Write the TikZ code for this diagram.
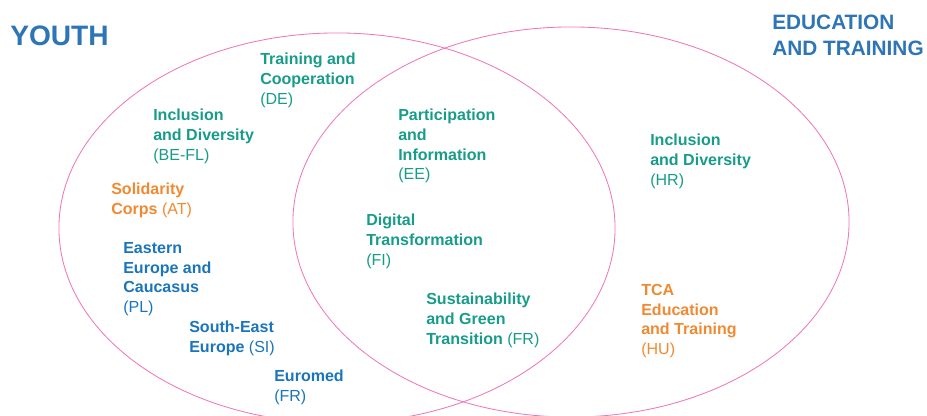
\documentclass[tikz,border=0pt]{standalone}
\usepackage{fontspec}
\setmainfont{Liberation Sans}
\usetikzlibrary{positioning,shapes.geometric}
\definecolor{vpink}{HTML}{EF78B8}
\definecolor{vblue}{HTML}{2E75B6}
\definecolor{vteal}{HTML}{179C8A}
\definecolor{vorange}{HTML}{F08A32}
\definecolor{vnavy}{HTML}{1B75BB}

\begin{document}
\begin{tikzpicture}[x=0.025cm, y=-0.025cm,
group/.style={ellipse,draw=vpink,line width=0.6pt,inner sep=0pt,minimum width=13.9cm,minimum height=9.75cm},
title/.style={anchor=north west,inner sep=0pt,align=left,text=vblue,font=\bfseries\fontsize{14.8}{18.5}\selectfont},
topic/.style={anchor=north west,inner sep=0pt,align=left,font=\fontsize{11.4}{14}\selectfont},
tealtopic/.style={topic,text=vteal},
orangetopic/.style={topic,text=vorange},
navytopic/.style={topic,text=vnavy}
]
\clip (0,0) rectangle (927,415);

%create sets
\node[group] (youth) at (337,228) {};
\node[group] (edu) at (571,222) {};

%titles
\node[title, font=\bfseries\fontsize{20}{24}\selectfont] (youthtitle) at (10,26) {YOUTH};
\node[title] (edutitle) at (772,15) {EDUCATION\\AND TRAINING};

%youth only
\node[tealtopic] (training) at (260,53) {\textbf{Training and}\\\textbf{Cooperation}\\(DE)};
\node[tealtopic] (inclyouth) at (153,109) {\textbf{Inclusion}\\\textbf{and Diversity}\\(BE-FL)};
\node[orangetopic] (solidarity) at (111,183) {\textbf{Solidarity}\\\textbf{Corps} (AT)};
\node[navytopic] (eastern) at (123,242) {\textbf{Eastern}\\\textbf{Europe and}\\\textbf{Caucasus}\\(PL)};
\node[navytopic] (southeast) at (189,321) {\textbf{South-East}\\\textbf{Europe} (SI)};
\node[navytopic] (euromed) at (274,370) {\textbf{Euromed}\\(FR)};

%both
\node[tealtopic] (particip) at (398,109) {\textbf{Participation}\\\textbf{and}\\\textbf{Information}\\(EE)};
\node[tealtopic] (digital) at (366,214) {\textbf{Digital}\\\textbf{Transformation}\\(FI)};
\node[tealtopic] (sustain) at (426,293) {\textbf{Sustainability}\\\textbf{and Green}\\\textbf{Transition} (FR)};

%education and training only
\node[tealtopic] (incledu) at (650,134) {\textbf{Inclusion}\\\textbf{and Diversity}\\(HR)};
\node[orangetopic] (tca) at (641,284) {\textbf{TCA}\\\textbf{Education}\\\textbf{and Training}\\(HU)};

\end{tikzpicture}
\end{document}
